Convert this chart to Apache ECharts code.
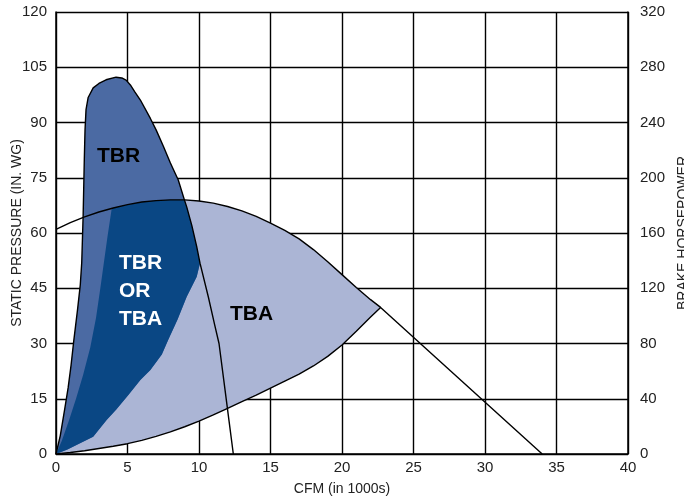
<!DOCTYPE html>
<html>
<head>
<meta charset="utf-8">
<script src="https://cdn.jsdelivr.net/npm/echarts@6/dist/echarts.min.js"></script>
<style>html,body{margin:0;padding:0;background:#fff;}#c{width:684px;height:497px;}</style>
</head>
<body>
<div id="c"></div>
<script>
// X-axis ticks (CFM in 1000s)
const xTicks = [0, 5, 10, 15, 20, 25, 30, 35, 40];
// Left axis ticks (static pressure), right axis ticks (brake horsepower)
const leftTicks = [0, 15, 30, 45, 60, 75, 90, 105, 120];
const rightTicks = [0, 40, 80, 120, 160, 200, 240, 280, 320];

// TBA upper curve (pressure vs CFM), continuing to the end line
const tbaUpper = [[0,61],[1,62.8],[2,64.4],[3,65.7],[4,66.8],[5,67.7],[6,68.4],[7,68.8],[8,69],[9,69],[10,68.7],[11,68.1],[12,67.2],[13,66],[14,64.5],[15,62.7],[16,60.7],[17,58.4],[18,55.5],[19,52.2],[20,48.7],[21,45.2],[22,41.9],[22.7,39.8],[34,0]];
// TBA lower boundary curve
const tbaLower = [[0,0],[1,0.4],[2,0.9],[3,1.5],[4,2.1],[5,2.8],[6,3.7],[7,4.8],[8,6.0],[9,7.4],[10,8.9],[11,10.6],[12,12.4],[13,14.2],[14,16],[15,17.9],[16,19.8],[17,21.7],[18,23.9],[19,26.5],[20,29.6],[21,33.3],[22,37.2],[22.7,39.8]];
// TBR curve (left edge, top, right edge down to axis)
const tbrCurve = [[0,0],[0.3,5],[0.6,12],[0.85,18],[1.05,24],[1.25,31],[1.5,39],[1.7,46],[1.8,52],[1.9,65],[1.98,80],[2.03,88],[2.1,93.5],[2.25,96.8],[2.6,99.4],[3.0,100.6],[3.5,101.6],[4.2,102.3],[4.6,102.1],[4.9,101.5],[5.2,100.2],[5.5,98.4],[5.9,96.1],[6.6,91.1],[7.0,88],[7.5,83.6],[8.0,79],[8.55,74.4],[8.98,69],[9.14,67.1],[9.5,62],[9.84,56.3],[10.07,51.8],[10.65,42.7],[11.1,35],[11.4,30],[11.8,18],[12.1,9],[12.4,0]];
// Overlap (TBR or TBA) region boundaries
const overlapLeft = [[0,0],[0.4,3.5],[0.9,9],[1.4,15],[1.9,21.5],[2.4,29],[2.8,37],[3.1,45],[3.35,52],[3.6,59],[3.9,66.7]];
const overlapRight = [[10.07,51.8],[9.84,48.1],[9.14,42.7],[8.5,36.5],[7.85,31],[7.4,27],[6.6,22.8],[5.9,20.1],[5.06,16],[4.2,12],[3.54,9.2],[2.6,4.7],[1.68,2.9],[0.8,1.2],[0,0]];

function seg(arr, x0, x1) { return arr.filter(p => p[0] >= x0 && p[0] <= x1); }
const upperCurveOnly = tbaUpper.slice(0, tbaUpper.length - 1);

// Build polygons from the arrays above
const tbaPoly = tbaLower.concat(seg(upperCurveOnly, 3.9, 22.7).reverse()).concat(overlapLeft.slice().reverse());
const tbrPoly = tbrCurve.filter(p => !(p[0] > 10.07)).concat(overlapRight.slice(1));
const overlapPoly = overlapLeft.concat(seg(upperCurveOnly, 4, 8.9)).concat([[8.98,69],[9.14,67.1],[9.5,62],[9.84,56.3]]).concat(overlapRight);

const LIGHT = '#abb5d5', MED = '#4b6aa3', DARK = '#0a4784';

function polySeries(points, color, z) {
  return {
    type: 'custom', z: z, silent: true,
    data: [0],
    renderItem: function (params, api) {
      const pts = points.map(p => api.coord(p));
      return { type: 'polygon', shape: { points: pts }, style: { fill: color, stroke: 'none' } };
    }
  };
}
function lineSeries(points, z) {
  return { type: 'line', data: points, showSymbol: false, smooth: false, z: z, silent: true,
    lineStyle: { color: '#000', width: 1.4 } };
}

const chart = echarts.init(document.getElementById('c'), null, { renderer: 'canvas' });
const font = 'Liberation Sans, Arial, Helvetica, sans-serif';
chart.setOption({
  animation: false,
  grid: { left: 56, right: 56, top: 12, bottom: 43, show: false, containLabel: false, outerBoundsMode: 'none' },
  xAxis: {
    type: 'value', min: 0, max: 40, interval: 5,
    name: 'CFM (in 1000s)', nameLocation: 'middle', nameGap: 28,
    nameTextStyle: { fontFamily: font, fontSize: 14, color: '#222' },
    axisLine: { show: true, lineStyle: { color: '#000', width: 1.5 } },
    axisTick: { show: false },
    axisLabel: { fontFamily: font, fontSize: 15, color: '#222', margin: 6 },
    splitLine: { show: true, lineStyle: { color: '#000', width: 1.4 } }
  },
  yAxis: [{
    type: 'value', min: 0, max: 120, interval: 15,
    name: 'STATIC PRESSURE (IN. WG)', nameLocation: 'middle', nameGap: 32, nameRotate: 90,
    nameMoveOverlap: false,
    nameTextStyle: { fontFamily: font, fontSize: 14, color: '#222' },
    axisLine: { show: true, lineStyle: { color: '#000', width: 1.5 } },
    axisTick: { show: false },
    axisLabel: { fontFamily: font, fontSize: 15, color: '#222', margin: 9 },
    splitLine: { show: true, lineStyle: { color: '#000', width: 1.4 } }
  }, {
    type: 'value', min: 0, max: 320, interval: 40, position: 'right',
    name: 'BRAKE HORSEPOWER', nameLocation: 'middle', nameGap: 46, nameRotate: 90,
    nameTextStyle: { fontFamily: font, fontSize: 14, color: '#222' },
    axisLine: { show: true, lineStyle: { color: '#000', width: 1.5 } },
    axisTick: { show: false },
    axisLabel: { fontFamily: font, fontSize: 15, color: '#222', margin: 12 },
    splitLine: { show: false }
  }],
  series: [
    polySeries(tbaPoly, LIGHT, 1),
    polySeries(tbrPoly, MED, 2),
    polySeries(overlapPoly, DARK, 3),
    lineSeries(tbaUpper, 5),
    lineSeries(tbaLower, 5),
    lineSeries(tbrCurve, 5)
  ],
  graphic: [
    { type: 'text', left: 97, top: 146, z: 10, style: { text: 'TBR', font: 'bold 21px ' + font, fill: '#000' } },
    { type: 'text', left: 119, top: 249, z: 10, style: { text: 'TBR\nOR\nTBA', font: 'bold 21px ' + font, fill: '#fff', align: 'center', lineHeight: 28 } },
    { type: 'text', left: 230, top: 304, z: 10, style: { text: 'TBA', font: 'bold 21px ' + font, fill: '#000' } }
  ]
});
</script>
</body>
</html>
